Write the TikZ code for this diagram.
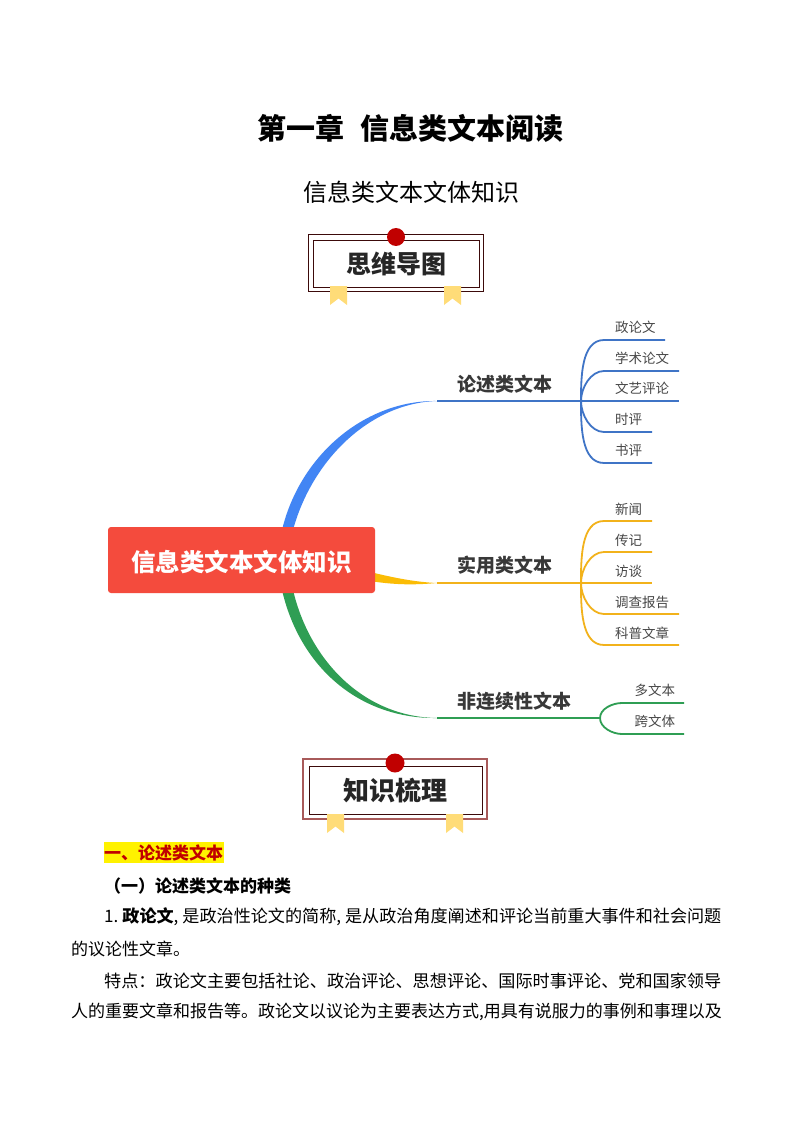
\documentclass[tikz,border=0pt]{standalone}
\usepackage{fontspec}
\setmainfont{Noto Sans CJK SC}
\definecolor{zwred}{HTML}{C00000}
\definecolor{zwbrown}{HTML}{3C0A0A}
\definecolor{zwrose}{HTML}{A85A5A}
\definecolor{zwyellow}{HTML}{FFDC78}
\definecolor{zwblue}{HTML}{3F74C6}
\definecolor{zwblue2}{HTML}{4285F4}
\definecolor{zwgold}{HTML}{F2B21B}
\definecolor{zwgold2}{HTML}{FBBC05}
\definecolor{zwgreen}{HTML}{2F9E54}
\definecolor{zwroot}{HTML}{F44B3D}
\newcommand{\zwribbon}[2]{\fill[zwyellow] (#1,#2) -- ++(17,0) -- ++(0,19) -- ++(-8.5,-6.5) -- ++(-8.5,6.5) -- cycle;}
\begin{document}
\begin{tikzpicture}[x=1pt, y=-1pt,
		title/.style={font=\fontsize{29}{29}\selectfont\bfseries, text=black, inner sep=0pt},
		subtitle/.style={font=\fontsize{24}{24}\selectfont, text=black, inner sep=0pt},
		banner text/.style={font=\fontsize{25}{25}\selectfont\bfseries, text=black!85, inner sep=0pt},
		root/.style={fill=zwroot, rounded corners=3pt, minimum width=267pt, minimum height=66pt, inner sep=0pt,
			text height=25pt, text depth=2.4pt, text=white, font=\fontsize{24.5}{24.5}\selectfont\bfseries},
		topic/.style={font=\fontsize{19}{19}\selectfont\bfseries, text=black!78, inner sep=0pt, anchor=west},
		leaf/.style={font=\fontsize{13.5}{13.5}\selectfont, text=black!72, inner sep=0pt, anchor=west},
		body/.style={font=\fontsize{17}{17}\selectfont, text=black, inner sep=0pt, anchor=west},
		twig/.style={line width=1.8pt, looseness=0.9}]
	\useasboundingbox (0,0) rectangle (794,1123);
	\fill[white] (0,0) rectangle (794,1123);
	% headings
	\node[title] (chapter) at (410.5,128) {第一章\hspace{0.56em}信息类文本阅读};
	\node[subtitle] (section) at (411,192) {信息类文本文体知识};
	% first banner
	\draw[zwbrown, line width=0.9pt] (308,234) rectangle (483,291);
	\draw[zwbrown, line width=0.9pt] (313,240) rectangle (479,287);
	\zwribbon{330}{286}
	\zwribbon{444}{286}
	\fill[zwred] (396,237) circle (9);
	\node[banner text] (mindmap) at (396,264) {思维导图};
	% second banner
	\draw[zwrose, line width=1.2pt] (303,759) rectangle (487,819);
	\draw[zwbrown, line width=0.9pt] (309,766) rectangle (482,814);
	\zwribbon{327}{814}
	\zwribbon{446}{814}
	\fill[zwred] (395,763) circle (9.5);
	\node[banner text, font=\fontsize{26}{26}\selectfont\bfseries] (sorting) at (395,791) {知识梳理};
	% thick part of the three main branches
	\coordinate (lunshu) at (437,401);
	\coordinate (shiyong) at (437,583);
	\coordinate (feilian) at (437,718);
	\fill[zwblue2] (282,530) .. controls (300,455) and (365,400) .. (lunshu)
		.. controls (370,403) and (312,460) .. (293,530) -- cycle;
	\fill[zwgold2] (370,572) .. controls (395,578) and (415,582) .. (shiyong)
		.. controls (415,585) and (395,585) .. (370,581) -- cycle;
	\fill[zwgreen] (282,590) .. controls (300,668) and (360,719) .. (feilian)
		.. controls (365,717) and (310,662) .. (293,590) -- cycle;
	\node[root] (center) at (241.5,560) {信息类文本文体知识};
	% branch lines
	\coordinate (lunshuhub) at (581,401);
	\coordinate (shiyonghub) at (581,583);
	\coordinate (feilianhub) at (600,718);
	\draw[zwblue, twig] (lunshu) -- (lunshuhub);
	\draw[zwgold, twig] (shiyong) -- (shiyonghub);
	\draw[zwgreen, twig] (feilian) -- (feilianhub);
	\node[topic] (lunshutxt) at (457,384) {论述类文本};
	\node[topic] (shiyongtxt) at (457,565) {实用类文本};
	\node[topic] (feiliantxt) at (457,701) {非连续性文本};
	% leaves
	\foreach \i/\y/\xend/\txt in {1/340/665/政论文, 2/371/679/学术论文, 3/401/679/文艺评论, 4/432/652/时评, 5/463/652/书评}{
		\coordinate (lunshu\i) at (\xend,\y);
		\node[leaf] (lunshutxt\i) at (615,\y-12.5) {\txt};
		\ifnum\y=401
			\draw[zwblue, twig] (lunshuhub) -- (lunshu\i);
		\else
			\draw[zwblue, twig] (lunshuhub) to[out={\y<401 ? 90 : -90}, in=180] (604,\y) -- (lunshu\i);
		\fi
	}
	\foreach \i/\y/\xend/\txt in {1/521/652/新闻, 2/552/652/传记, 3/583/652/访谈, 4/614/679/调查报告, 5/645/679/科普文章}{
		\coordinate (shiyong\i) at (\xend,\y);
		\node[leaf] (shiyongtxt\i) at (615,\y-12) {\txt};
		\ifnum\y=583
			\draw[zwgold, twig] (shiyonghub) -- (shiyong\i);
		\else
			\draw[zwgold, twig] (shiyonghub) to[out={\y<583 ? 90 : -90}, in=180] (604,\y) -- (shiyong\i);
		\fi
	}
	\foreach \i/\y/\txt in {1/703/多文本, 2/734/跨文体}{
		\coordinate (feilian\i) at (684,\y);
		\node[leaf] (feiliantxt\i) at (634.5,\y-12.5) {\txt};
		\draw[zwgreen, twig] (feilianhub) to[out={\y<718 ? 90 : -90}, in=180] (622,\y) -- (feilian\i);
	}
	% text below
	\fill[yellow] (104,842) rectangle (224,863);
	\node[body, text=zwred, font=\fontsize{17}{17}\selectfont\bfseries] (part) at (104,853) {一、论述类文本};
	\node[body, font=\fontsize{17}{17}\selectfont\bfseries] (kind) at (104,885.5) {\char"FF08 一\char"FF09 论述类文本的种类};
	\node[body, font=\fontsize{17.1}{17}\selectfont] (line1) at (104,917) {1.\hspace{4pt}\textbf{政论文},\hspace{4pt}是政治性论文的简称,\hspace{4pt}是从政治角度阐述和评论当前重大事件和社会问题};
	\node[body] (line2) at (71,949) {的议论性文章。};
	\node[body, font=\fontsize{17.14}{17}\selectfont] (line3) at (104,980.5) {特点\char"FF1A 政论文主要包括社论、政治评论、思想评论、国际时事评论、党和国家领导};
	\node[body] (line4) at (71,1012) {人的重要文章和报告等。政论文以议论为主要表达方式,用具有说服力的事例和事理以及};
\end{tikzpicture}
\end{document}
